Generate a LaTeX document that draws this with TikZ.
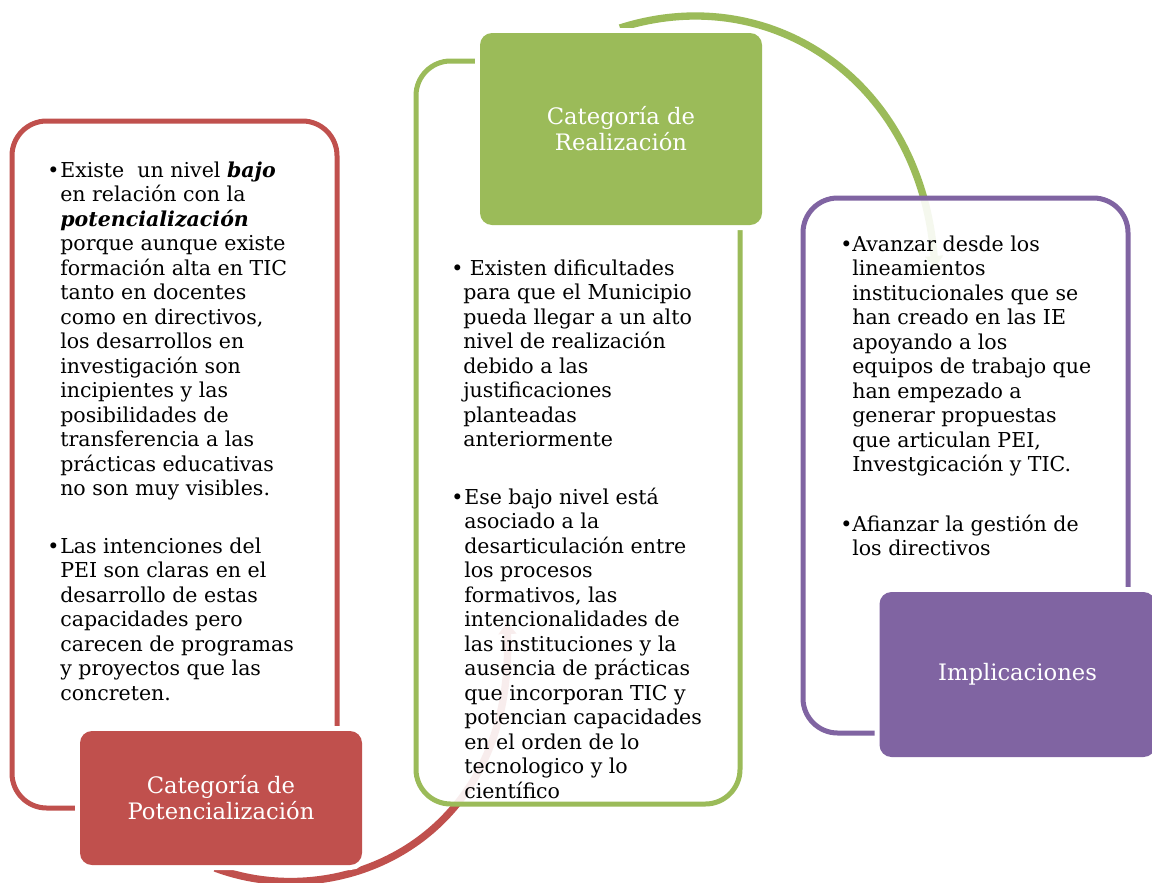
\documentclass[tikz,border=0pt]{standalone}
\usepackage{fontspec}
\setmainfont{DejaVu Serif}
\usetikzlibrary{arrows.meta}
\definecolor{cred}{HTML}{C0504D}
\definecolor{cgreen}{HTML}{9BBB59}
\definecolor{cpurple}{HTML}{8064A2}
\newcommand{\bodyfont}{\fontsize{15.4pt}{18.4pt}\selectfont}
\newcommand{\labfont}{\fontsize{17pt}{19.5pt}\selectfont}
\tikzset{
  outline/.style={draw=#1, line width=3.75pt, rounded corners=26pt, fill=white, fill opacity=0.9, draw opacity=1, inner sep=0pt},
  labelbox/.style={fill=#1, rounded corners=9pt, inner sep=0pt, text=white, align=center, font=\labfont,
     preaction={draw=white, line width=7.5pt}},
  arcline/.style={draw=#1, line width=5.5pt, -{Triangle[width=13pt,length=9pt]}},
  bul/.style={anchor=base west, inner sep=0pt, font=\bodyfont},
  btext/.style={anchor=base west, inner sep=0pt, font=\bodyfont}
}
\newcommand{\lines}[1]{\parbox[t]{260pt}{\raggedright\bodyfont #1}}
\begin{document}
\begin{tikzpicture}[x=0.75pt,y=-0.75pt]
\useasboundingbox (0,0) rectangle (1152,882);
\fill[white] (0,0) rectangle (1152,882);
% arcs
\coordinate (rtail) at (215,868);
\coordinate (rhead) at (507,622);
\coordinate (gtail) at (620,28);
\coordinate (ghead) at (935,268);
\draw[arcline=cred] (rtail) .. controls (340,915) and (515,840) .. (rhead);
\draw[arcline=cgreen] (gtail) .. controls (770,-20) and (920,80) .. (ghead);
% outline boxes
\node[outline=cred, minimum width=243.75pt, minimum height=515.25pt] (rbox) at (174.5,464.5) {};
\node[outline=cgreen, minimum width=243pt, minimum height=557.25pt] (gbox) at (578,432.5) {};
\node[outline=cpurple, minimum width=243.75pt, minimum height=401.25pt] (pbox) at (965.5,465.5) {};
% label boxes
\node[labelbox=cred, minimum width=211.5pt, minimum height=100.5pt] (rlab) at (221,798) {Categoría de\\Potencialización};
\node[labelbox=cgreen, minimum width=211.5pt, minimum height=144pt] (glab) at (621,129) {Categoría de\\Realización};
\node[labelbox=cpurple, minimum width=207pt, minimum height=123.75pt] (plab) at (1017.5,674.5) {Implicaciones};
% red text
\node[bul] (rb1) at (47,177) {\textbullet};
\node[btext] (rt1) at (60,177) {\lines{Existe \ un nivel \textbf{\textit{bajo}}\\en relación con la\\\textbf{\textit{potencialización}}\\porque aunque existe\\formación alta en TIC\\tanto en docentes\\como en directivos,\\los desarrollos en\\investigación son\\incipientes y las\\posibilidades de\\transferencia a las\\prácticas educativas\\no son muy visibles.}};
\node[bul] (rb2) at (47,553) {\textbullet};
\node[btext] (rt2) at (60,553) {\lines{Las intenciones del\\PEI son claras en el\\desarrollo de estas\\capacidades pero\\carecen de programas\\y proyectos que las\\concreten.}};
% green text
\node[bul] (gb1) at (451,275) {\textbullet};
\node[btext] (gt1) at (463,275) {\lines{\ Existen dificultades\\para que el Municipio\\pueda llegar a un alto\\nivel de realización\\debido a las\\justificaciones\\planteadas\\anteriormente}};
\node[bul] (gb2) at (451,504) {\textbullet};
\node[btext] (gt2) at (464,504) {\lines{Ese bajo nivel está\\asociado a la\\desarticulación entre\\los procesos\\formativos, las\\intencionalidades de\\las instituciones y la\\ausencia de prácticas\\que incorporan TIC y\\potencian capacidades\\en el orden de lo\\tecnologico y lo\\científico}};
% purple text
\node[bul] (pb1) at (840,251) {\textbullet};
\node[btext] (pt1) at (852,251) {\lines{Avanzar desde los\\lineamientos\\institucionales que se\\han creado en las IE\\apoyando a los\\equipos de trabajo que\\han empezado a\\generar propuestas\\que articulan PEI,\\Investgicación y TIC.}};
\node[bul] (pb2) at (840,531) {\textbullet};
\node[btext] (pt2) at (852,531) {\lines{Afianzar la gestión de\\los directivos}};
\end{tikzpicture}
\end{document}
